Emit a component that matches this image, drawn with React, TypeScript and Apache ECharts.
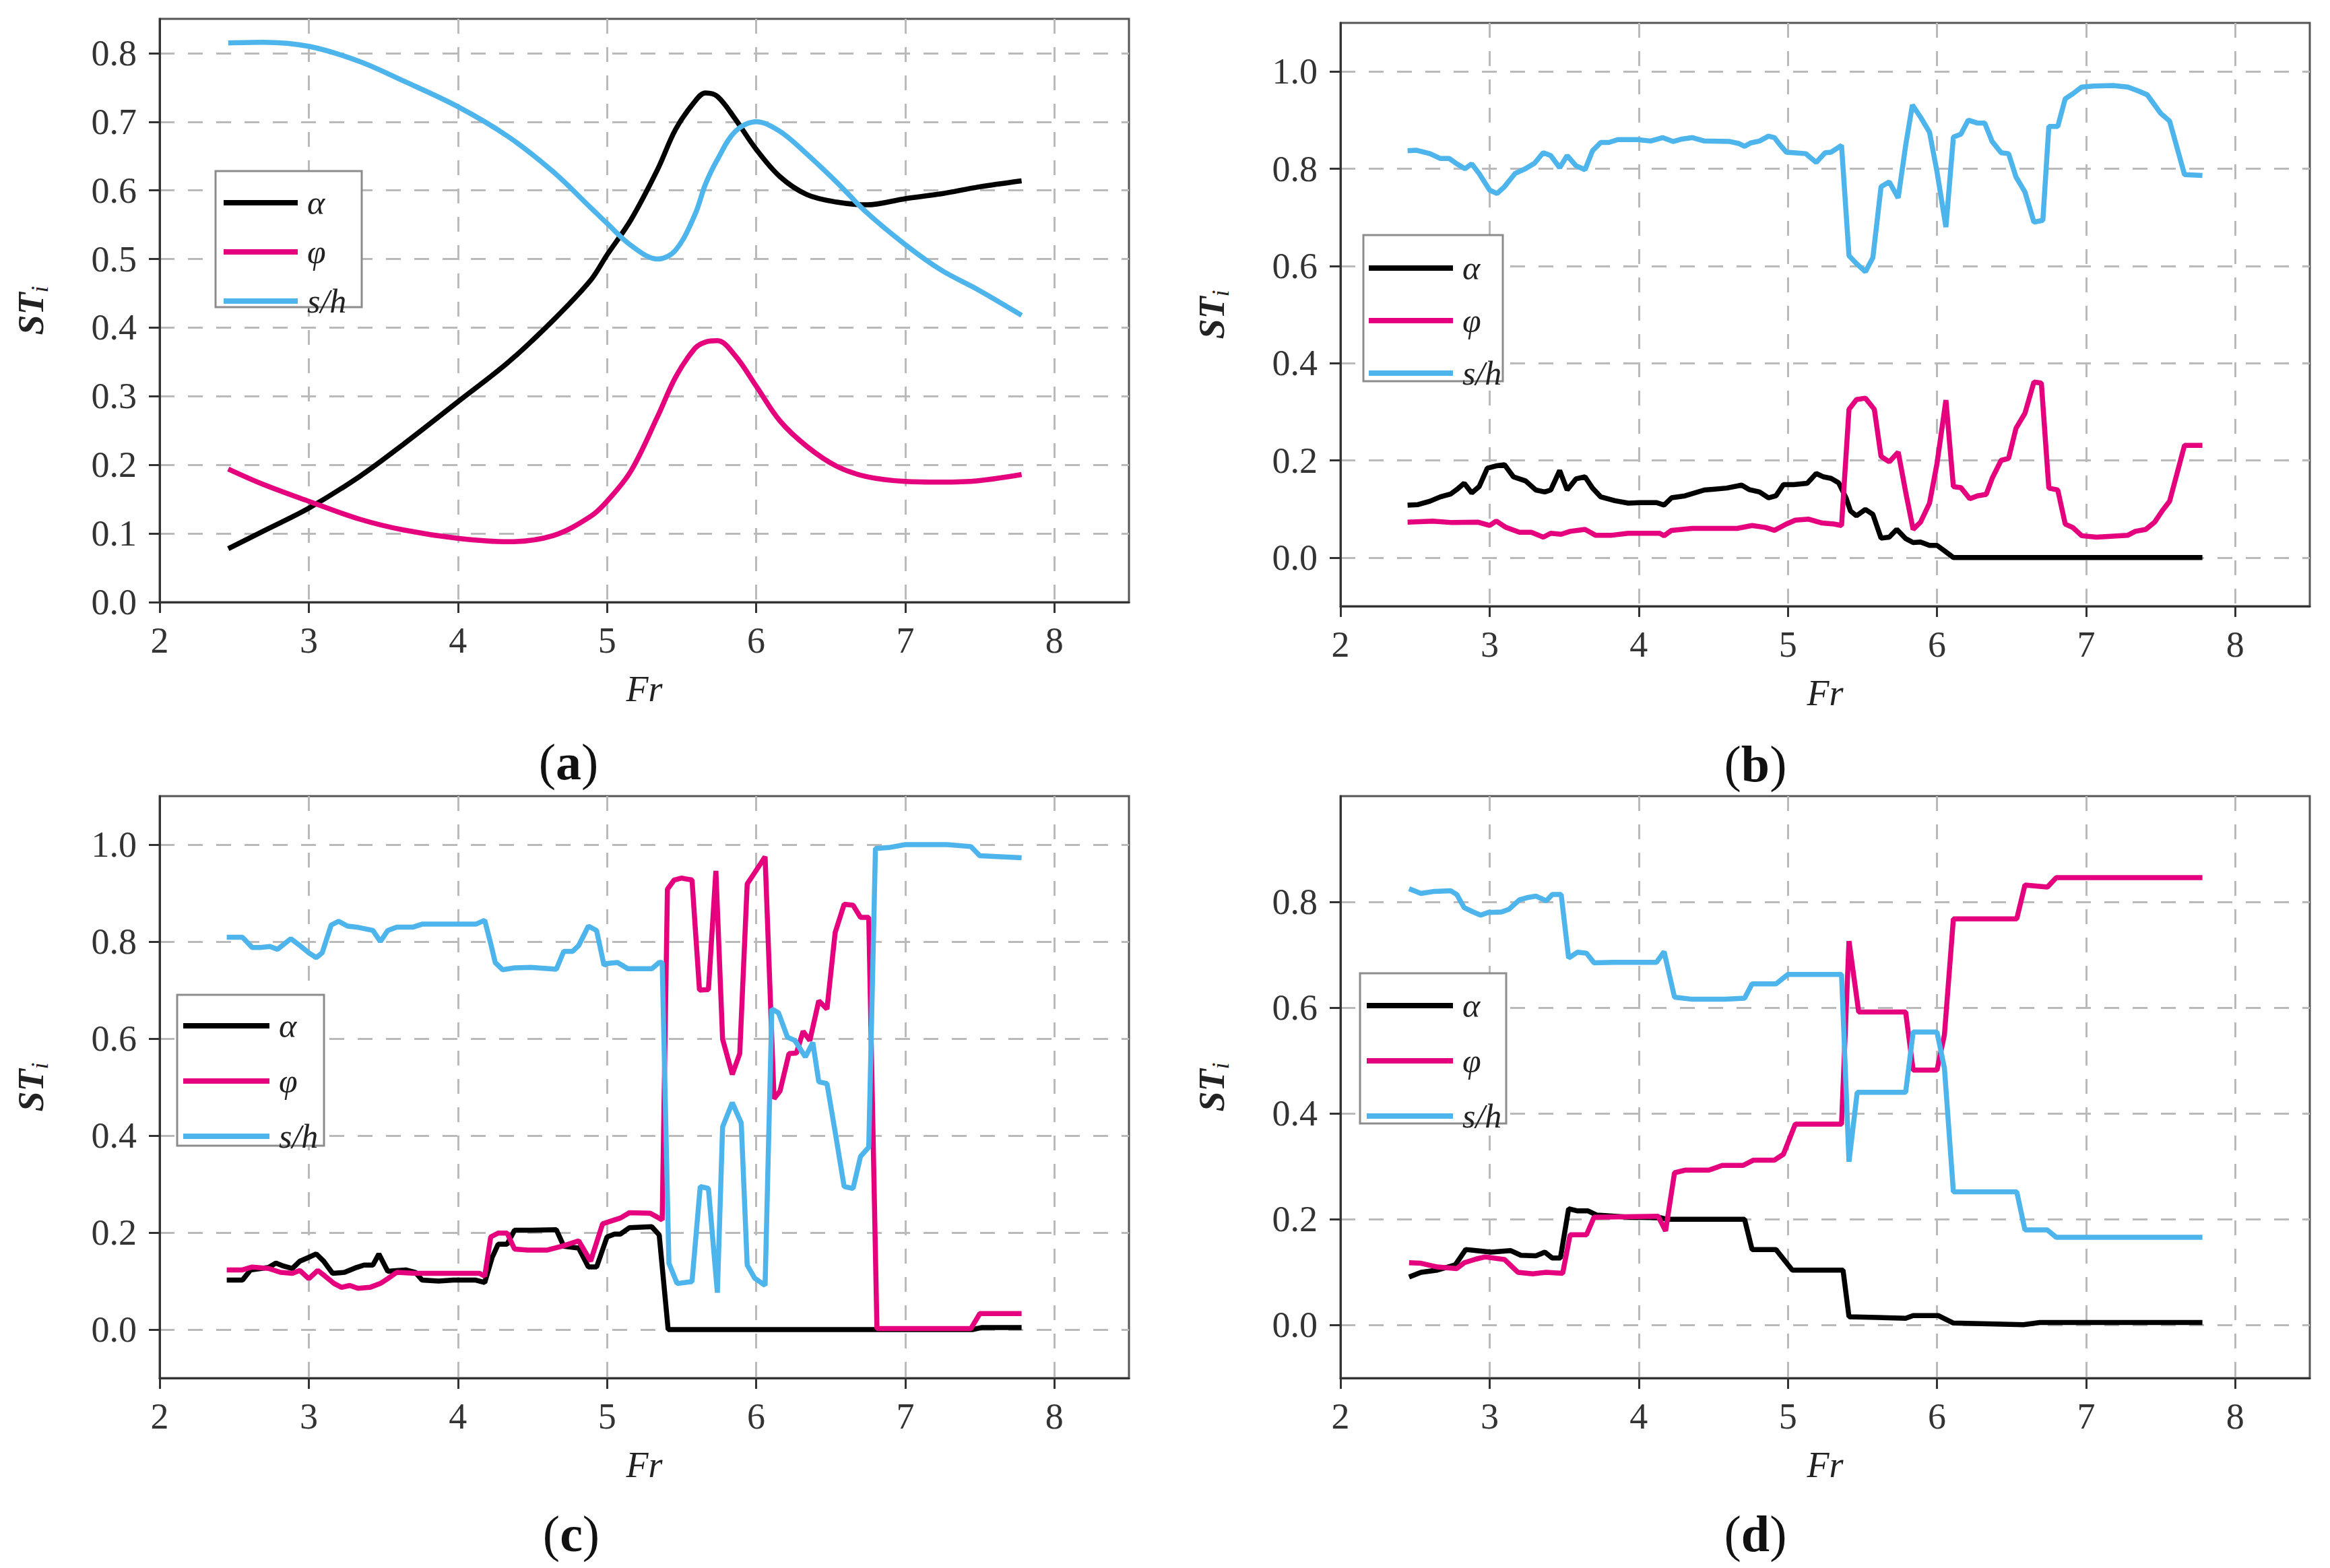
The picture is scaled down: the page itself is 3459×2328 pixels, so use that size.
import React, { useEffect, useRef } from "react";
import * as echarts from "echarts";

type Pt = [number, number];

// ---------- shared axis ticks ----------
const FR_TICKS = [2, 3, 4, 5, 6, 7, 8];
const ST_TICKS_A = [0, 0.1, 0.2, 0.3, 0.4, 0.5, 0.6, 0.7, 0.8];
const ST_TICKS_BC = [0, 0.2, 0.4, 0.6, 0.8, 1.0];
const ST_TICKS_D = [0, 0.2, 0.4, 0.6, 0.8];
const SERIES_NAMES = ["α", "φ", "s/h"];
const PANEL_LETTERS = ["a", "b", "c", "d"];

// ---------- panel (a): smooth curves ----------
const aFr = [2.46, 2.69, 3.0, 3.34, 3.64, 4.0, 4.34, 4.64, 4.89, 5.0, 5.16, 5.34, 5.46, 5.59, 5.66, 5.74, 5.86, 6.0, 6.16, 6.34, 6.54, 6.74, 7.0, 7.24, 7.49, 7.78];
const aAlpha = [0.078, 0.103, 0.137, 0.183, 0.231, 0.292, 0.350, 0.411, 0.469, 0.506, 0.557, 0.631, 0.689, 0.730, 0.742, 0.737, 0.704, 0.660, 0.620, 0.594, 0.583, 0.579, 0.588, 0.595, 0.605, 0.614];
const aPhi = [0.194, 0.172, 0.147, 0.121, 0.105, 0.093, 0.088, 0.097, 0.125, 0.147, 0.191, 0.271, 0.328, 0.370, 0.379, 0.381, 0.359, 0.315, 0.264, 0.227, 0.198, 0.183, 0.176, 0.175, 0.177, 0.186];
const aSh = [0.815, 0.816, 0.810, 0.788, 0.759, 0.722, 0.678, 0.627, 0.575, 0.552, 0.520, 0.500, 0.513, 0.565, 0.609, 0.645, 0.686, 0.700, 0.686, 0.653, 0.612, 0.568, 0.521, 0.484, 0.455, 0.418];

// ---------- panel (b) ----------
const bAlpha: Pt[] = [[2.45,0.108],[2.52,0.109],[2.60,0.116],[2.67,0.125],[2.74,0.131],[2.78,0.140],[2.83,0.153],[2.88,0.133],[2.93,0.146],[2.985,0.184],[3.05,0.189],[3.10,0.191],[3.16,0.166],[3.24,0.158],[3.31,0.139],[3.37,0.135],[3.41,0.139],[3.47,0.179],[3.52,0.139],[3.58,0.162],[3.64,0.166],[3.69,0.143],[3.745,0.125],[3.84,0.117],[3.93,0.112],[4.01,0.113],[4.12,0.113],[4.17,0.108],[4.22,0.123],[4.31,0.127],[4.44,0.139],[4.59,0.143],[4.69,0.149],[4.74,0.140],[4.81,0.135],[4.87,0.123],[4.92,0.127],[4.97,0.150],[5.04,0.150],[5.13,0.153],[5.19,0.173],[5.24,0.166],[5.29,0.163],[5.34,0.154],[5.39,0.123],[5.42,0.096],[5.46,0.086],[5.52,0.099],[5.57,0.089],[5.625,0.040],[5.68,0.042],[5.73,0.058],[5.79,0.039],[5.84,0.031],[5.89,0.032],[5.95,0.025],[6.00,0.025],[6.05,0.014],[6.11,0.0],[7.78,0.0]];
const bPhi: Pt[] = [[2.45,0.073],[2.62,0.075],[2.75,0.072],[2.92,0.073],[3.00,0.066],[3.045,0.075],[3.11,0.062],[3.20,0.052],[3.28,0.052],[3.36,0.042],[3.41,0.050],[3.48,0.048],[3.54,0.054],[3.64,0.058],[3.71,0.046],[3.82,0.046],[3.93,0.050],[4.14,0.050],[4.17,0.045],[4.22,0.056],[4.36,0.060],[4.66,0.060],[4.76,0.066],[4.85,0.062],[4.91,0.056],[4.99,0.069],[5.05,0.077],[5.14,0.079],[5.23,0.071],[5.31,0.069],[5.36,0.066],[5.41,0.305],[5.46,0.325],[5.52,0.328],[5.58,0.305],[5.625,0.208],[5.68,0.197],[5.74,0.217],[5.79,0.135],[5.84,0.058],[5.89,0.073],[5.95,0.112],[6.00,0.193],[6.06,0.324],[6.11,0.146],[6.16,0.144],[6.22,0.121],[6.27,0.127],[6.33,0.130],[6.37,0.163],[6.43,0.200],[6.48,0.204],[6.53,0.266],[6.59,0.297],[6.65,0.361],[6.70,0.359],[6.75,0.143],[6.81,0.139],[6.86,0.069],[6.91,0.062],[6.97,0.045],[7.07,0.042],[7.28,0.046],[7.33,0.054],[7.40,0.058],[7.46,0.073],[7.51,0.096],[7.56,0.116],[7.66,0.231],[7.78,0.231]];
const bSh: Pt[] = [[2.45,0.837],[2.51,0.838],[2.60,0.831],[2.67,0.821],[2.73,0.821],[2.78,0.810],[2.835,0.800],[2.88,0.810],[2.93,0.790],[3.00,0.756],[3.05,0.749],[3.10,0.763],[3.17,0.790],[3.24,0.800],[3.30,0.811],[3.36,0.833],[3.41,0.827],[3.47,0.802],[3.52,0.827],[3.58,0.806],[3.64,0.798],[3.69,0.837],[3.745,0.854],[3.80,0.854],[3.86,0.860],[3.99,0.860],[4.08,0.857],[4.16,0.864],[4.23,0.856],[4.29,0.861],[4.36,0.864],[4.44,0.857],[4.61,0.856],[4.67,0.852],[4.71,0.846],[4.75,0.853],[4.81,0.857],[4.87,0.867],[4.91,0.864],[4.94,0.852],[4.99,0.834],[5.04,0.833],[5.12,0.831],[5.19,0.813],[5.25,0.833],[5.29,0.834],[5.36,0.848],[5.41,0.621],[5.46,0.605],[5.52,0.588],[5.57,0.617],[5.625,0.763],[5.68,0.773],[5.74,0.740],[5.79,0.848],[5.835,0.931],[5.89,0.906],[5.95,0.875],[6.00,0.794],[6.06,0.680],[6.11,0.865],[6.16,0.871],[6.21,0.900],[6.27,0.894],[6.32,0.894],[6.37,0.856],[6.43,0.833],[6.48,0.831],[6.53,0.783],[6.59,0.752],[6.65,0.690],[6.71,0.694],[6.75,0.887],[6.81,0.887],[6.86,0.944],[6.91,0.954],[6.97,0.968],[7.05,0.970],[7.18,0.971],[7.28,0.968],[7.35,0.960],[7.41,0.952],[7.50,0.914],[7.56,0.898],[7.66,0.788],[7.78,0.786]];

// ---------- panel (c) ----------
const cAlpha: Pt[] = [[2.45,0.102],[2.555,0.102],[2.61,0.123],[2.73,0.128],[2.78,0.137],[2.83,0.131],[2.89,0.126],[2.94,0.141],[3.00,0.149],[3.05,0.156],[3.10,0.141],[3.16,0.116],[3.24,0.118],[3.32,0.128],[3.37,0.133],[3.43,0.133],[3.47,0.156],[3.53,0.120],[3.60,0.122],[3.65,0.123],[3.715,0.118],[3.76,0.102],[3.87,0.100],[3.97,0.102],[4.12,0.102],[4.18,0.097],[4.23,0.149],[4.27,0.176],[4.33,0.176],[4.38,0.205],[4.49,0.205],[4.66,0.206],[4.71,0.172],[4.81,0.168],[4.875,0.129],[4.93,0.129],[5.00,0.191],[5.05,0.197],[5.09,0.197],[5.15,0.210],[5.30,0.212],[5.35,0.195],[5.41,0.0],[7.45,0.0],[7.51,0.004],[7.78,0.004]];
const cPhi: Pt[] = [[2.45,0.123],[2.555,0.123],[2.62,0.129],[2.73,0.126],[2.81,0.118],[2.89,0.116],[2.94,0.122],[3.00,0.105],[3.06,0.122],[3.11,0.110],[3.17,0.095],[3.22,0.087],[3.275,0.091],[3.33,0.085],[3.41,0.087],[3.48,0.095],[3.53,0.105],[3.59,0.118],[3.715,0.116],[3.93,0.116],[4.145,0.116],[4.18,0.110],[4.22,0.191],[4.27,0.199],[4.33,0.199],[4.38,0.166],[4.47,0.164],[4.60,0.164],[4.70,0.172],[4.81,0.183],[4.89,0.141],[4.97,0.218],[5.02,0.223],[5.09,0.230],[5.15,0.241],[5.29,0.240],[5.33,0.233],[5.37,0.226],[5.405,0.908],[5.45,0.927],[5.50,0.931],[5.57,0.927],[5.62,0.700],[5.68,0.701],[5.73,0.946],[5.775,0.599],[5.84,0.526],[5.89,0.569],[5.94,0.919],[5.99,0.942],[6.06,0.975],[6.12,0.476],[6.16,0.492],[6.22,0.569],[6.27,0.570],[6.315,0.615],[6.36,0.596],[6.42,0.678],[6.475,0.661],[6.53,0.819],[6.59,0.877],[6.65,0.875],[6.70,0.850],[6.755,0.850],[6.81,0.002],[7.44,0.002],[7.50,0.033],[7.78,0.033]];
const cSh: Pt[] = [[2.45,0.809],[2.555,0.809],[2.62,0.788],[2.68,0.788],[2.74,0.790],[2.79,0.784],[2.88,0.806],[2.94,0.792],[3.00,0.777],[3.05,0.767],[3.09,0.777],[3.15,0.834],[3.20,0.842],[3.26,0.832],[3.32,0.830],[3.37,0.827],[3.43,0.823],[3.48,0.800],[3.53,0.823],[3.59,0.830],[3.65,0.830],[3.70,0.830],[3.76,0.836],[3.93,0.836],[4.12,0.836],[4.18,0.844],[4.22,0.796],[4.25,0.757],[4.30,0.742],[4.38,0.746],[4.49,0.747],[4.66,0.743],[4.71,0.780],[4.77,0.780],[4.81,0.792],[4.875,0.832],[4.93,0.823],[4.98,0.751],[5.00,0.755],[5.07,0.757],[5.14,0.744],[5.30,0.744],[5.35,0.757],[5.37,0.757],[5.415,0.137],[5.47,0.095],[5.57,0.099],[5.625,0.295],[5.68,0.291],[5.74,0.076],[5.775,0.418],[5.84,0.468],[5.90,0.426],[5.94,0.133],[5.99,0.106],[6.06,0.091],[6.105,0.661],[6.15,0.653],[6.21,0.603],[6.26,0.596],[6.33,0.562],[6.38,0.592],[6.42,0.511],[6.475,0.507],[6.53,0.407],[6.59,0.295],[6.65,0.291],[6.70,0.357],[6.755,0.376],[6.80,0.992],[6.89,0.994],[7.00,1.0],[7.28,1.0],[7.44,0.996],[7.50,0.977],[7.64,0.975],[7.78,0.973]];

// ---------- panel (d) ----------
const dAlpha: Pt[] = [[2.46,0.091],[2.54,0.100],[2.65,0.104],[2.77,0.114],[2.84,0.143],[2.91,0.141],[3.01,0.138],[3.14,0.141],[3.21,0.132],[3.31,0.131],[3.37,0.138],[3.42,0.127],[3.475,0.127],[3.53,0.220],[3.59,0.216],[3.66,0.216],[3.72,0.208],[3.94,0.204],[4.15,0.203],[4.19,0.200],[4.71,0.200],[4.76,0.143],[4.92,0.143],[5.03,0.104],[5.37,0.104],[5.41,0.016],[5.79,0.013],[5.84,0.018],[6.01,0.018],[6.11,0.004],[6.58,0.001],[6.69,0.005],[7.78,0.005]];
const dPhi: Pt[] = [[2.46,0.118],[2.54,0.117],[2.65,0.110],[2.78,0.107],[2.83,0.118],[2.91,0.125],[2.97,0.129],[3.10,0.124],[3.19,0.100],[3.29,0.097],[3.38,0.100],[3.49,0.098],[3.54,0.171],[3.65,0.171],[3.70,0.204],[4.13,0.206],[4.18,0.178],[4.24,0.288],[4.31,0.293],[4.47,0.293],[4.56,0.302],[4.70,0.302],[4.77,0.312],[4.91,0.312],[4.97,0.323],[5.05,0.380],[5.36,0.380],[5.41,0.726],[5.475,0.592],[5.79,0.592],[5.84,0.482],[6.00,0.482],[6.05,0.549],[6.11,0.768],[6.535,0.768],[6.59,0.832],[6.74,0.828],[6.80,0.846],[7.78,0.846]];
const dSh: Pt[] = [[2.46,0.825],[2.54,0.816],[2.63,0.820],[2.74,0.821],[2.78,0.814],[2.83,0.789],[2.89,0.781],[2.94,0.775],[2.99,0.780],[3.08,0.781],[3.13,0.786],[3.20,0.804],[3.25,0.808],[3.31,0.811],[3.38,0.802],[3.42,0.814],[3.48,0.814],[3.53,0.694],[3.59,0.705],[3.65,0.703],[3.70,0.685],[3.83,0.686],[4.12,0.686],[4.17,0.706],[4.24,0.620],[4.36,0.616],[4.58,0.616],[4.71,0.618],[4.76,0.645],[4.92,0.645],[5.00,0.663],[5.36,0.663],[5.41,0.309],[5.465,0.440],[5.79,0.440],[5.84,0.554],[6.00,0.554],[6.05,0.486],[6.11,0.252],[6.535,0.252],[6.59,0.180],[6.74,0.180],[6.80,0.166],[7.78,0.166]];

// ---------- styling ----------
const COLORS = ["#000000", "#E5007D", "#4DB5EC"];
const FONT = "Liberation Serif";
const W = 3459;
const H = 2328;

const zip = (xs: number[], ys: number[]): Pt[] => xs.map((x, i) => [x, ys[i]]);

interface Panel {
  grid: { left: number; top: number; width: number; height: number };
  yMin: number;
  yMax: number;
  yTicks: number[];
  series: Pt[][];
  smooth: number | boolean;
  legend: { left: number; top: number; itemWidth: number; itemGap: number };
  box: { x: number; y: number; w: number; h: number };
  label: { x: number; y: number };
}

const panels: Panel[] = [
  {
    grid: { left: 237, top: 28, width: 1439, height: 866 },
    yMin: 0, yMax: 0.85, yTicks: ST_TICKS_A,
    series: [zip(aFr, aAlpha), zip(aFr, aPhi), zip(aFr, aSh)],
    smooth: 0.35,
    legend: { left: 328, top: 276, itemWidth: 110, itemGap: 23 },
    box: { x: 320, y: 254, w: 217, h: 202 },
    label: { x: 844, y: 1131 },
  },
  {
    grid: { left: 1990, top: 34, width: 1439, height: 866 },
    yMin: -0.1, yMax: 1.1, yTicks: ST_TICKS_BC,
    series: [bAlpha, bPhi, bSh],
    smooth: false,
    legend: { left: 2028, top: 373, itemWidth: 125, itemGap: 28 },
    box: { x: 2024, y: 349, w: 207, h: 217 },
    label: { x: 2606, y: 1134 },
  },
  {
    grid: { left: 237, top: 1182, width: 1439, height: 864 },
    yMin: -0.1, yMax: 1.1, yTicks: ST_TICKS_BC,
    series: [cAlpha, cPhi, cSh],
    smooth: false,
    legend: { left: 268, top: 1498, itemWidth: 128, itemGap: 32 },
    box: { x: 263, y: 1477, w: 218, h: 224 },
    label: { x: 848, y: 2277 },
  },
  {
    grid: { left: 1990, top: 1182, width: 1439, height: 864 },
    yMin: -0.1, yMax: 1.0, yTicks: ST_TICKS_D,
    series: [dAlpha, dPhi, dSh],
    smooth: false,
    legend: { left: 2025, top: 1468, itemWidth: 128, itemGap: 32 },
    box: { x: 2019, y: 1445, w: 217, h: 223 },
    label: { x: 2606, y: 2277 },
  },
];

const gridLine = { type: [22, 20] as number[], color: "#bababa", width: 3 };
const axisDark = { color: "#333333", width: 3 };

function buildOption(): any {
  const grid: any[] = [];
  const xAxis: any[] = [];
  const yAxis: any[] = [];
  const series: any[] = [];
  const legend: any[] = [];
  const graphic: any[] = [];

  panels.forEach((p, i) => {
    grid.push({
      ...p.grid,
      show: true,
      borderColor: "#555555",
      borderWidth: 3,
      backgroundColor: "#ffffff",
      containLabel: false,
    });
    xAxis.push({
      type: "value",
      gridIndex: i,
      min: 2,
      max: 8.5,
      name: "Fr",
      nameLocation: "middle",
      nameGap: 102,
      nameTextStyle: { fontFamily: FONT, fontStyle: "italic", fontSize: 54, color: "#222" },
      axisLine: { show: true, onZero: false, lineStyle: axisDark },
      axisTick: { show: true, length: 16, lineStyle: axisDark, customValues: FR_TICKS },
      axisLabel: {
        customValues: FR_TICKS,
        margin: 30,
        fontFamily: FONT,
        fontSize: 54,
        color: "#333",
        formatter: (v: number) => String(v),
      },
      splitLine: { show: true, lineStyle: gridLine },
    });
    yAxis.push({
      type: "value",
      gridIndex: i,
      min: p.yMin,
      max: p.yMax,
      name: "{s|ST}{i|i}",
      nameLocation: "middle",
      nameRotate: 90,
      nameGap: 160,
      nameTextStyle: {
        fontFamily: FONT,
        rich: {
          s: { fontFamily: FONT, fontStyle: "italic", fontWeight: "bold", fontSize: 54, color: "#222", lineHeight: 62 },
          i: { fontFamily: FONT, fontStyle: "italic", fontSize: 36, color: "#222", lineHeight: 40, verticalAlign: "bottom" },
        },
      },
      axisLine: { show: true, onZero: false, lineStyle: axisDark },
      axisTick: { show: true, length: 16, lineStyle: axisDark, customValues: p.yTicks },
      axisLabel: {
        customValues: p.yTicks,
        margin: 34,
        fontFamily: FONT,
        fontSize: 54,
        color: "#333",
        formatter: (v: number) => v.toFixed(1),
      },
      splitLine: { show: true, lineStyle: gridLine },
    });
    p.series.forEach((data, k) => {
      series.push({
        type: "line",
        name: SERIES_NAMES[k],
        xAxisIndex: i,
        yAxisIndex: i,
        data,
        smooth: p.smooth,
        symbol: "none",
        showSymbol: false,
        z: 2 + k,
        lineStyle: { color: COLORS[k], width: 7.5 },
        itemStyle: { color: COLORS[k] },
      });
    });
    legend.push({
      orient: "vertical",
      left: p.legend.left,
      top: p.legend.top,
      padding: 0,
      itemWidth: p.legend.itemWidth,
      itemHeight: 40,
      itemGap: p.legend.itemGap,
      z: 10,
      data: SERIES_NAMES,
      selectedMode: false,
      itemStyle: { opacity: 0 },
      lineStyle: { width: 8 },
      textStyle: {
        fontFamily: FONT,
        fontStyle: "italic",
        fontSize: 50,
        color: "#222",
        lineHeight: 40,
        padding: [0, 0, 0, 9],
      },
    });
    graphic.push({
      type: "rect",
      z: 1,
      shape: { x: p.box.x, y: p.box.y, width: p.box.w, height: p.box.h },
      style: { fill: "#ffffff", stroke: "#8c8c8c", lineWidth: 3 },
    });
    graphic.push({
      type: "text",
      z: 5,
      x: p.label.x,
      y: p.label.y,
      style: {
        text: "{p|(}{b|" + PANEL_LETTERS[i] + "}{p|)}",
        align: "center",
        verticalAlign: "middle",
        rich: {
          p: { fontFamily: FONT, fontSize: 76, fill: "#111" },
          b: { fontFamily: FONT, fontSize: 76, fontWeight: "bold", fill: "#111" },
        },
      },
    });
  });

  return {
    animation: false,
    backgroundColor: "#ffffff",
    textStyle: { fontFamily: FONT },
    grid,
    xAxis,
    yAxis,
    series,
    legend,
    graphic: { elements: graphic },
  };
}

export default function App() {
  const ref = useRef<HTMLDivElement | null>(null);
  useEffect(() => {
    if (!ref.current) return;
    const chart = echarts.init(ref.current, undefined, { renderer: "svg", width: W, height: H });
    chart.setOption(buildOption());
    return () => chart.dispose();
  }, []);
  return (
    <div
      ref={ref}
      style={{ position: "fixed", left: 0, top: 0, width: W, height: H, background: "#ffffff" }}
    />
  );
}
